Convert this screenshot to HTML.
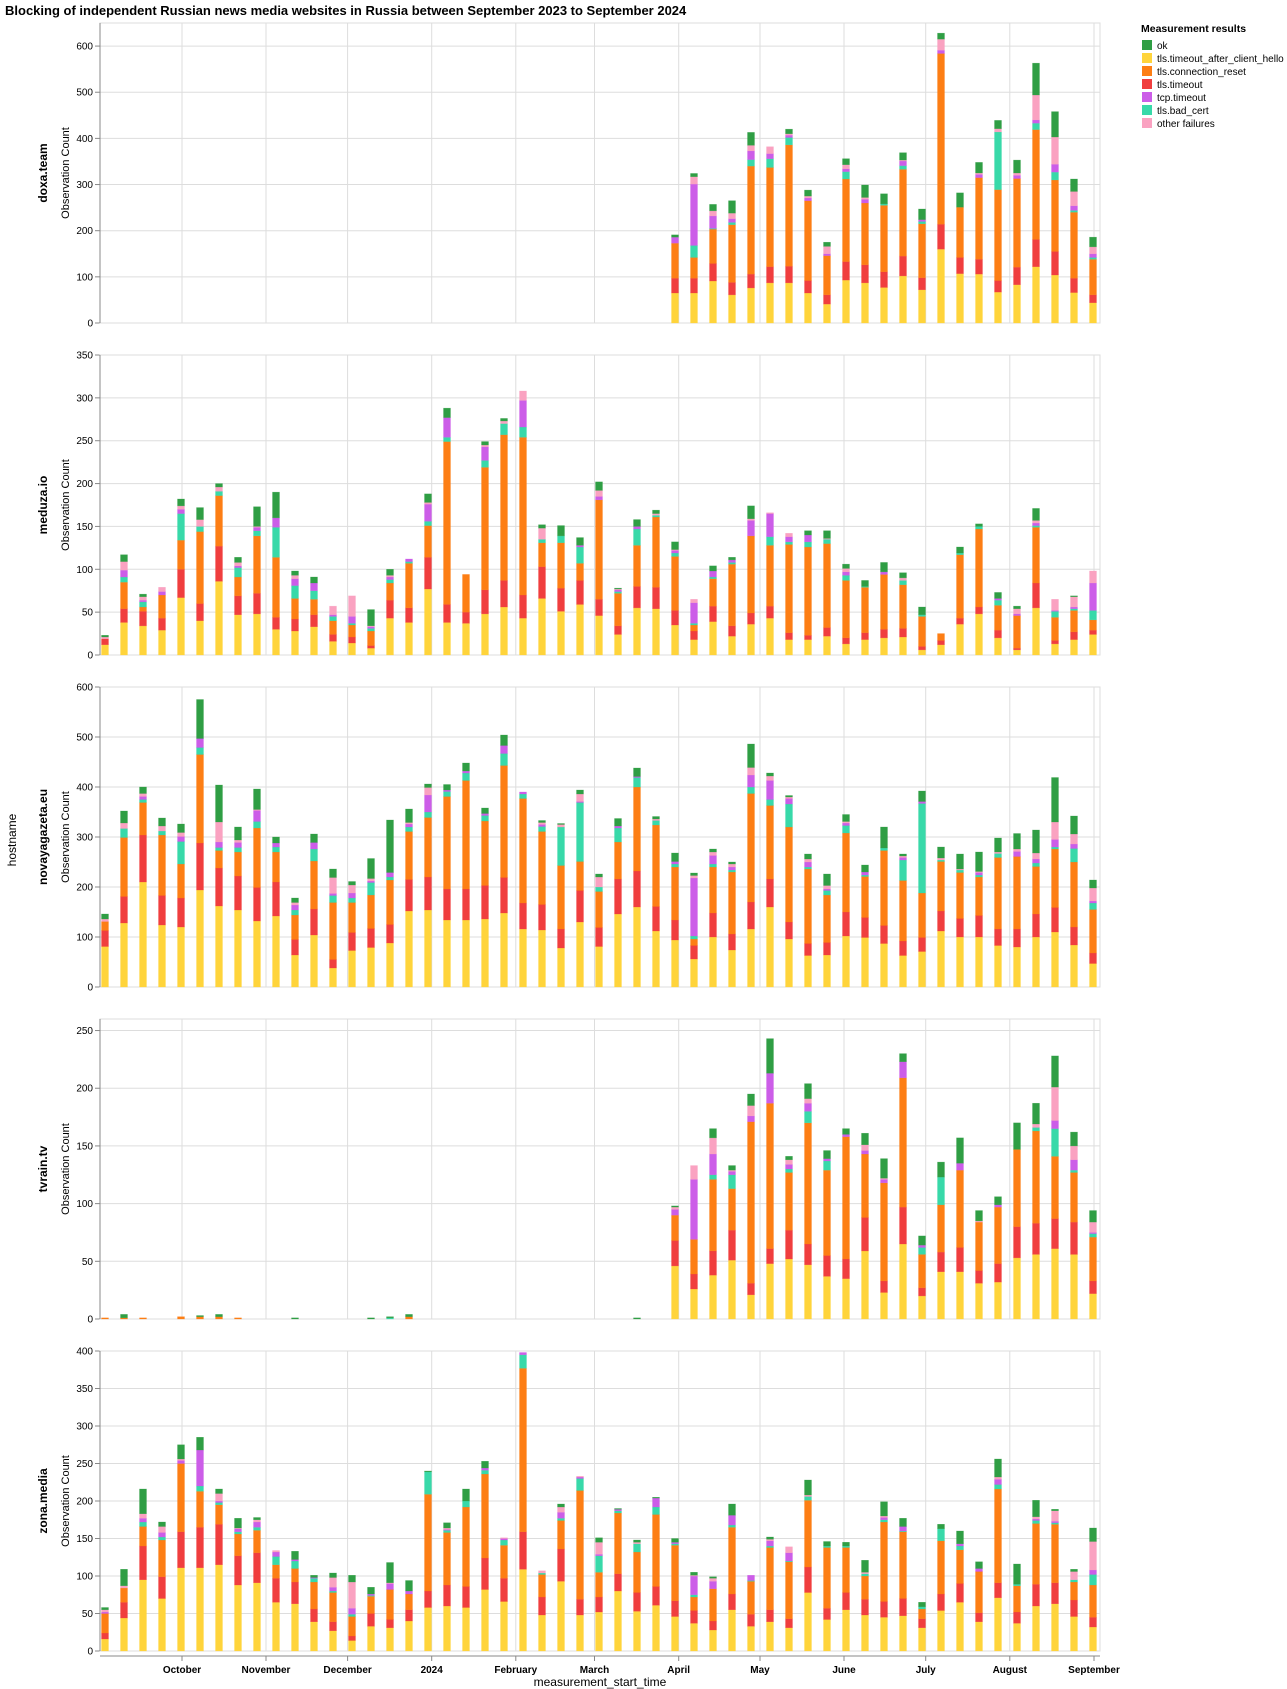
<!DOCTYPE html>
<html><head><meta charset="utf-8"><style>
html,body{margin:0;padding:0;background:#fff;}
svg{display:block;font-family:"Liberation Sans",Arial,sans-serif;}
</style></head><body>
<svg id="c" width="1287" height="1689" xmlns="http://www.w3.org/2000/svg">
<text x="5" y="15" font-size="13" font-weight="bold" fill="#000">Blocking of independent Russian news media websites in Russia between September 2023 to September 2024</text>
<text x="1141" y="32" font-size="10.5" font-weight="bold" fill="#000">Measurement results</text>
<g font-size="10" fill="#000">
<rect x="1142" y="40" width="10" height="10" fill="#2f9e44"/><text x="1157" y="49">ok</text>
<rect x="1142" y="53" width="10" height="10" fill="#ffd43b"/><text x="1157" y="62">tls.timeout_after_client_hello</text>
<rect x="1142" y="66" width="10" height="10" fill="#fd7e14"/><text x="1157" y="75">tls.connection_reset</text>
<rect x="1142" y="79" width="10" height="10" fill="#f03e3e"/><text x="1157" y="88">tls.timeout</text>
<rect x="1142" y="92" width="10" height="10" fill="#cc5de8"/><text x="1157" y="101">tcp.timeout</text>
<rect x="1142" y="105" width="10" height="10" fill="#38d9a9"/><text x="1157" y="114">tls.bad_cert</text>
<rect x="1142" y="118" width="10" height="10" fill="#faa2c1"/><text x="1157" y="127">other failures</text>
</g>
<text transform="translate(16,840) rotate(-90)" text-anchor="middle" font-size="12" fill="#000">hostname</text>
<text x="600" y="1686" text-anchor="middle" font-size="12" fill="#000">measurement_start_time</text>
<g id="plots"></g>
</svg>
<script>
var P=[
{name:"doxa.team",max:650,ticks:[0,100,200,300,400,500,600],d:{
30:[65,97,173,173,186,186,191],31:[65,97,142,168,301,317,324],32:[91,129,204,205,232,243,257],33:[61,88,213,218,226,238,265],
34:[76,106,340,354,373,385,413],35:[87,122,337,356,367,382,382],36:[87,123,386,402,407,410,420],37:[65,92,265,265,271,275,288],
38:[41,61,146,146,150,166,175],39:[93,133,312,328,334,343,356],40:[87,126,260,260,268,272,299],41:[77,111,255,258,258,258,280],
42:[102,145,333,341,351,353,369],43:[72,98,215,220,224,224,247],44:[160,214,584,584,591,615,628],45:[107,142,251,251,251,251,282],
46:[106,138,315,315,322,325,348],47:[67,92,289,414,414,421,439],48:[83,121,313,313,320,325,353],49:[122,181,419,433,440,494,563],
50:[104,155,310,327,344,403,458],51:[66,97,240,244,254,285,312],52:[44,61,138,142,150,165,186]}},
{name:"meduza.io",max:350,ticks:[0,50,100,150,200,250,300,350],d:{
0:[12,19,19,19,19,21,23],1:[38,54,85,91,99,109,117],2:[34,51,56,62,64,68,71],3:[29,43,70,70,74,79,79],4:[67,100,134,165,170,174,182],
5:[40,60,144,150,150,158,172],6:[86,127,186,191,191,196,200],7:[47,69,91,102,104,108,114],8:[48,72,139,145,149,150,173],
9:[30,44,114,149,160,160,190],10:[28,42,66,81,89,93,98],11:[33,47,65,75,84,84,91],12:[16,24,40,45,47,57,57],13:[14,21,35,37,45,69,69],
14:[8,11,28,31,33,34,53],15:[43,64,84,88,91,93,100],16:[38,55,107,109,112,112,112],17:[77,114,151,156,176,178,188],
18:[38,59,249,254,277,277,288],19:[37,50,94,94,94,94,94],20:[48,76,219,227,243,245,249],21:[56,87,257,270,270,273,276],
22:[43,70,254,266,297,308,308],23:[66,103,131,135,135,148,152],24:[51,78,131,139,139,139,151],25:[59,87,107,126,128,128,137],
26:[46,65,181,181,185,192,202],27:[24,34,72,74,76,77,78],28:[55,80,128,147,150,150,158],29:[54,79,161,163,163,165,169],
30:[35,52,115,119,122,123,132],31:[18,28,35,37,61,65,65],32:[39,57,89,91,98,98,104],33:[22,34,106,108,111,111,114],
34:[36,49,139,139,157,159,174],35:[43,57,128,138,165,166,166],36:[18,26,129,132,138,142,142],37:[18,23,126,132,140,140,145],
38:[22,32,130,135,135,136,145],39:[13,20,87,93,97,101,106],40:[18,26,79,80,80,80,87],41:[20,30,94,94,97,97,108],
42:[21,31,82,87,87,90,96],43:[6,10,45,47,47,47,56],44:[12,17,25,25,25,25,25],45:[36,43,117,119,119,119,126],
46:[48,56,147,150,150,150,153],47:[20,29,58,64,66,66,73],48:[6,8,46,46,48,54,57],49:[55,84,149,151,154,157,171],
50:[13,17,44,51,52,65,65],51:[18,27,52,54,56,68,69],52:[24,29,41,52,84,98,98]}},
{name:"novayagazeta.eu",max:600,ticks:[0,100,200,300,400,500,600],d:{
0:[81,113,131,131,131,136,146],1:[128,181,299,317,317,328,352],2:[210,304,369,375,381,387,400],3:[124,183,304,312,312,322,338],
4:[120,178,246,291,301,309,326],5:[194,288,465,479,497,497,575],6:[162,238,273,279,290,330,404],7:[154,222,270,279,289,294,320],
8:[132,199,318,331,353,355,396],9:[142,210,270,280,288,288,300],10:[64,95,144,154,164,169,178],11:[104,156,252,276,289,289,306],
12:[38,55,169,183,187,219,236],13:[73,109,169,178,188,204,211],14:[79,117,184,209,212,217,257],15:[88,125,214,220,229,229,334],
16:[152,215,311,320,326,329,356],17:[154,220,339,350,384,399,406],18:[134,196,381,391,394,394,405],19:[134,196,413,428,432,432,448],
20:[136,203,332,343,347,347,358],21:[148,219,443,467,483,483,504],22:[116,168,377,386,390,390,390],23:[114,165,311,321,325,329,333],
24:[78,116,243,320,320,325,327],25:[130,193,251,369,371,386,394],26:[81,119,191,200,200,220,226],27:[146,216,290,318,322,322,337],
28:[160,232,400,419,421,421,438],29:[112,161,324,333,333,336,341],30:[94,134,240,246,251,251,268],31:[56,83,96,102,218,223,228],
32:[100,148,240,246,263,270,276],33:[74,106,230,234,240,246,250],34:[116,170,387,400,424,439,486],35:[160,216,363,375,413,422,428],
36:[96,130,320,366,377,380,383],37:[63,87,236,240,250,256,266],38:[64,89,184,193,196,203,226],39:[102,150,308,323,328,331,345],
40:[99,139,221,224,230,230,244],41:[87,123,273,278,278,278,320],42:[63,92,213,254,259,262,266],43:[71,99,188,367,371,371,392],
44:[112,152,251,254,254,258,280],45:[100,137,229,234,234,236,266],46:[100,143,220,224,229,231,270],47:[83,116,259,267,267,270,298],
48:[80,116,261,261,271,276,307],49:[100,146,241,248,256,268,314],50:[110,159,276,280,295,330,419],51:[84,120,250,277,286,306,342],
52:[47,68,155,168,172,198,214]}},
{name:"tvrain.tv",max:260,ticks:[0,50,100,150,200,250],d:{
0:[0,0,1,1,1,1,1],1:[0,0,1,1,1,1,4],2:[0,0,1,1,1,1,1],4:[0,0,2,2,2,2,2],5:[0,0,2,2,2,2,3],6:[0,0,2,2,2,2,4],7:[0,0,1,1,1,1,1],
10:[0,0,0,0,0,0,1],14:[0,0,0,0,0,0,1],15:[0,0,0,1,1,1,2],16:[0,0,2,2,2,2,4],28:[0,0,0,0,0,0,1],
30:[46,68,90,90,95,97,98],31:[26,39,69,69,121,133,133],32:[38,59,121,125,143,157,165],33:[51,77,113,125,128,129,133],
34:[21,31,171,171,176,185,195],35:[48,61,187,187,213,213,243],36:[52,77,127,130,134,138,141],37:[47,65,170,180,187,191,204],
38:[37,55,129,137,139,139,146],39:[35,52,158,158,160,160,165],40:[59,88,143,143,146,151,161],41:[23,33,118,118,121,122,139],
42:[65,97,209,209,223,223,230],43:[20,27,56,62,64,64,72],44:[41,58,99,123,123,123,136],45:[41,62,129,129,135,135,157],
46:[31,42,84,84,84,85,94],47:[32,48,97,97,99,99,106],48:[53,80,147,147,147,147,170],49:[56,83,163,166,166,169,187],
50:[61,87,141,165,172,201,228],51:[56,84,127,129,138,150,162],52:[22,33,71,74,75,84,94]}},
{name:"zona.media",max:400,ticks:[0,50,100,150,200,250,300,350,400],d:{
0:[16,24,50,50,52,55,58],1:[44,65,84,84,84,87,109],2:[95,140,166,172,177,183,216],3:[70,99,148,152,158,166,172],
4:[111,159,250,250,254,256,275],5:[111,165,213,220,268,268,285],6:[115,169,195,198,200,210,216],7:[88,127,156,159,163,164,177],
8:[91,131,161,165,172,175,178],9:[65,97,115,126,132,134,134],10:[63,92,110,120,122,122,133],11:[39,56,92,97,98,98,101],
12:[27,39,78,80,85,98,104],13:[14,20,46,49,57,92,101],14:[33,50,73,74,76,76,85],15:[31,42,82,82,90,91,118],
16:[40,55,76,76,80,80,94],17:[58,80,209,239,239,239,240],18:[60,88,158,161,162,164,171],19:[58,86,192,200,200,200,216],
20:[82,124,236,241,244,244,253],21:[66,97,141,148,150,151,151],22:[109,159,377,395,398,398,398],23:[48,72,102,104,104,107,107],
24:[93,136,174,177,185,192,196],25:[48,69,214,230,232,233,233],26:[52,72,105,127,129,145,151],27:[80,103,184,187,189,189,190],
28:[53,78,132,143,143,145,148],29:[61,86,182,192,204,204,205],30:[46,67,141,143,145,145,150],31:[37,54,72,75,100,101,105],
32:[28,40,83,83,93,97,99],33:[55,76,165,168,181,181,196],34:[33,49,93,94,101,101,101],35:[39,55,138,140,147,149,152],
36:[31,43,119,120,131,139,139],37:[78,112,201,206,206,208,228],38:[42,57,138,140,140,140,146],39:[55,78,138,140,140,140,145],
40:[48,69,100,103,103,105,121],41:[45,66,172,175,178,180,199],42:[47,70,159,160,166,166,177],43:[31,43,56,59,59,59,65],
44:[54,76,147,163,163,163,169],45:[65,90,135,140,143,143,160],46:[39,51,106,106,110,110,119],47:[71,91,216,222,229,232,256],
48:[37,52,87,89,89,89,116],49:[60,89,170,174,176,179,201],50:[63,91,169,171,173,187,189],51:[46,68,92,95,95,106,109],
52:[32,45,88,102,108,146,164]}}
];
var COL=["#ffd43b","#f03e3e","#fd7e14","#38d9a9","#cc5de8","#faa2c1","#2f9e44"];
var g=document.getElementById("plots"),h="";
var L=100,R=1100,H=300;
var months=[["October",182],["November",266],["December",347.6],["2024",431.7],["February",515.8],["March",594.5],["April",678.7],["May",760],["June",844],["July",925.7],["August",1009.8],["September",1094]];
P.forEach(function(p,k){
  var top=23+k*332,bot=top+H;
  function y(v){return bot-v/p.max*H;}
  months.forEach(function(m){h+='<line x1="'+m[1]+'" x2="'+m[1]+'" y1="'+top+'" y2="'+bot+'" stroke="#ddd"/>';});
  p.ticks.forEach(function(t){var yy=y(t);h+='<line x1="'+L+'" x2="'+R+'" y1="'+yy+'" y2="'+yy+'" stroke="#ddd"/>';
    h+='<line x1="'+(L-5)+'" x2="'+L+'" y1="'+yy+'" y2="'+yy+'" stroke="#888"/>';
    h+='<text x="'+(L-7)+'" y="'+(yy+3.5)+'" text-anchor="end" font-size="10" fill="#000">'+t+'</text>';});
  h+='<rect x="'+L+'" y="'+top+'" width="'+(R-L)+'" height="'+H+'" fill="none" stroke="#ddd"/>';
  h+='<line x1="'+L+'" x2="'+L+'" y1="'+top+'" y2="'+bot+'" stroke="#888"/>';
  h+='<text transform="translate(69,'+(top+H/2)+') rotate(-90)" text-anchor="middle" font-size="11" fill="#000">Observation Count</text>';
  h+='<text transform="translate(47,'+(top+H/2)+') rotate(-90)" text-anchor="middle" font-size="12" font-weight="bold" fill="#000">'+p.name+'</text>';
  for(var i=0;i<53;i++){var d=p.d[i];if(!d)continue;var x=105+19*i-3.5,prev=0;
    for(var s=0;s<7;s++){var v=d[s];if(v>prev){var y1=y(v),y0=y(prev);
      h+='<rect x="'+x+'" y="'+y1.toFixed(2)+'" width="7" height="'+Math.max(0.8,y0-y1).toFixed(2)+'" fill="'+COL[s]+'" stroke="'+COL[s]+'" stroke-opacity="0.5" stroke-width="0.5"/>';prev=v;}}
  }
});
var ay=1656;
h+='<line x1="'+L+'" x2="'+R+'" y1="'+ay+'" y2="'+ay+'" stroke="#888"/>';
months.forEach(function(m){h+='<line x1="'+m[1]+'" x2="'+m[1]+'" y1="'+ay+'" y2="'+(ay+5)+'" stroke="#888"/>';
  h+='<text x="'+m[1]+'" y="'+(ay+17)+'" text-anchor="middle" font-size="10" font-weight="bold" fill="#000">'+m[0]+'</text>';});
g.innerHTML=h;
</script>
</body></html>
